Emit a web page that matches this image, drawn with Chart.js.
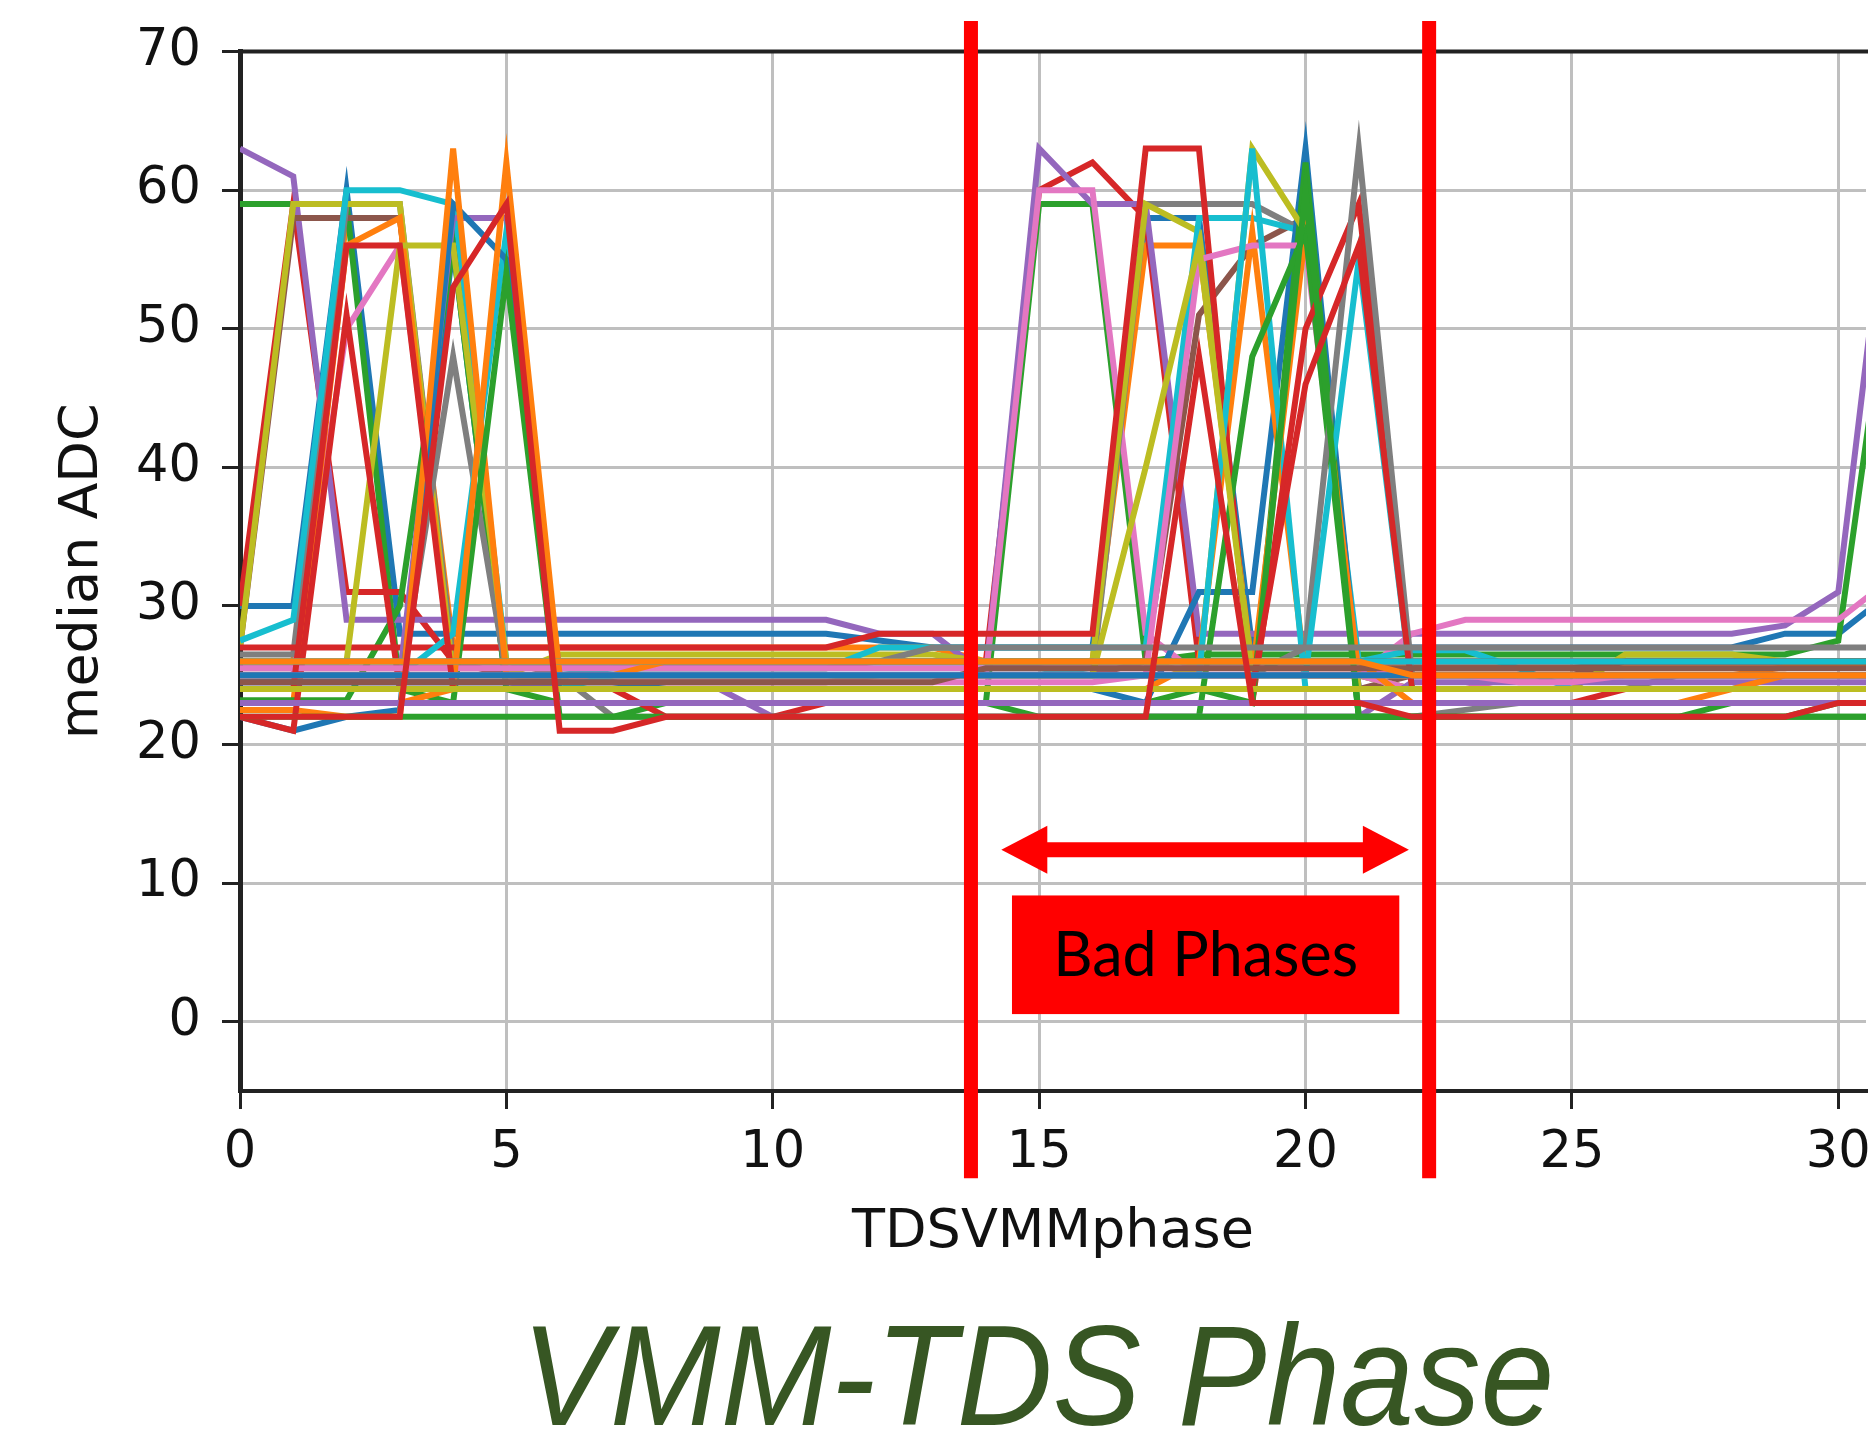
<!DOCTYPE html>
<html>
<head>
<meta charset="utf-8">
<title>VMM-TDS Phase</title>
<script src="https://cdn.jsdelivr.net/npm/chart.js@4.4.1/dist/chart.umd.min.js"></script>
<style>
    html, body { margin: 0; padding: 0; background: #ffffff; overflow: hidden; }
    #chart-wrap { position: relative; width: 1868px; height: 1435px; }
    #slide-title {
        position: absolute;
        left: 1038px;
        top: 1305px;
        font-family: "Liberation Sans", Arial, sans-serif;
        font-style: italic;
        font-size: 142px;
        line-height: 1;
        color: #375623;
        white-space: nowrap;
        transform: translateX(-50%) scaleX(0.935);
    }
</style>
</head>
<body>
<div id="chart-wrap">
    <canvas id="phase-scan-chart"></canvas>
    <div id="slide-title">VMM-TDS Phase</div>
</div>
<script>
// TDS/VMM phase scan, one line per channel
const phases = [0, 1, 2, 3, 4, 5, 6, 7, 8, 9, 10, 11, 12, 13, 14, 15, 16, 17, 18, 19, 20, 21, 22, 23, 24, 25, 26, 27, 28, 29, 30, 31];
const xTicks = [0, 5, 10, 15, 20, 25, 30];
const yTicks = [0, 10, 20, 30, 40, 50, 60, 70];

const channel00 = [30, 30, 60, 28, 28, 28, 28, 28, 28, 28, 28, 28, 27.5, 27, 27, 27, 27, 58, 58, 27, 27, 27, 27, 27, 27, 27, 27, 27, 27, 28, 28, 31];
const channel01 = [26, 26, 58, 58, 27, 27, 27, 27, 27, 27, 27, 27, 27, 27, 26, 26, 26, 56, 56, 25.5, 25.5, 25.5, 25.5, 25.5, 25.5, 25.5, 25.5, 25.5, 25.5, 25.5, 26, 26];
const channel02 = [59, 59, 59, 24, 23, 23, 23, 23, 23, 23, 23, 23, 23, 23, 23, 59, 59, 26, 26.5, 26.5, 26.5, 26.5, 26.5, 26.5, 26.5, 26.5, 26.5, 26.5, 26.5, 26.5, 27.5, 55];
const channel03 = [30, 59, 31, 31, 26, 26, 26, 26, 26, 26, 26, 26, 26, 26, 26, 60, 62, 58, 26, 26, 26, 26, 26, 26, 26, 26, 26, 26, 26, 26, 26, 26];
const channel04 = [63, 61, 29, 29, 29, 29, 29, 29, 29, 29, 29, 29, 28, 28, 25, 63, 59, 59, 28, 28, 28, 28, 28, 28, 28, 28, 28, 28, 28, 28.6, 31, 63];
const channel05 = [27, 58, 58, 58, 26, 25, 25, 25, 25, 25, 25, 25, 25, 25, 25, 25, 25, 26, 51, 56, 58, 24, 25, 25, 25, 25, 26, 26, 26, 26, 26, 26];
const channel06 = [25, 25, 50, 56, 25, 25, 25, 25, 25, 25, 25, 25, 25, 25, 25, 60, 60, 28, 25, 25, 25, 25, 28, 29, 29, 29, 29, 29, 29, 29, 29, 32];
const channel07 = [26.5, 26.5, 59, 59, 26, 26, 25, 25, 25, 25, 25, 25, 25, 25, 25, 25, 25, 59, 59, 59, 57, 25, 24, 24, 24, 24, 24, 25, 25, 25, 25, 25];
const channel08 = [27, 59, 59, 59, 25, 25, 26.5, 26.5, 26.5, 26.5, 26.5, 26.5, 26.5, 26.5, 26, 26, 26, 59, 57, 25, 25, 25, 24, 24, 24, 24, 26.5, 26.5, 26.5, 26, 26, 26];
const channel09 = [27.5, 29, 60, 60, 59, 26, 25.5, 25.5, 25.5, 25.5, 25.5, 25.5, 27, 27, 27, 27, 27, 27, 58, 58, 57, 26, 26.8, 26.8, 25.5, 24, 24, 24, 24, 25, 25, 25];
const channel10 = [24, 24, 24, 24, 56, 24, 24, 24, 24, 24, 24, 24, 24, 24, 24, 24, 24, 23, 31, 31, 63, 24, 24, 24, 24, 24, 24, 24, 24, 24, 24, 24];
const channel11 = [23, 23, 56, 58, 24, 24, 24, 24, 24, 24, 24, 24, 24, 24, 24, 24, 24, 24, 26, 57, 25, 25, 25, 25, 25, 25, 25, 25, 25, 25.6, 25.6, 25.6];
const channel12 = [23.2, 23.2, 23.2, 30, 56, 24, 23, 23, 23, 23, 23, 23, 23, 23, 23, 23, 23, 23, 24, 23, 62, 22, 22, 22, 22, 22, 22, 22, 23, 23, 23, 23];
const channel13 = [27, 27, 27, 27, 27, 27, 27, 27, 27, 27, 27, 27, 28, 28, 28, 28, 28, 63, 63, 23, 23, 23, 23, 23, 23, 23, 24, 24, 24, 24, 24, 24];
const channel14 = [25, 25, 25, 25, 58, 58, 25, 25, 25, 25, 25, 25, 25, 25, 25, 25, 25, 25, 25, 25, 25, 25, 25, 25, 25, 25, 25, 25, 25, 25, 25, 25];
const channel15 = [25, 25, 25, 25, 25, 25, 24.5, 24.5, 24.5, 24.5, 24.5, 24.5, 25, 25, 25, 25, 25, 25, 25, 25, 25, 25, 25.5, 25.5, 25.5, 25.5, 26, 26, 26, 26, 26, 26];
const channel16 = [24.9, 24.9, 24.9, 25, 25, 25, 25, 24.5, 24.5, 24.5, 24.5, 24.5, 24.5, 24.5, 24.5, 24.5, 24.5, 25, 55, 56, 56, 25, 24, 24, 25, 25, 25, 25, 25, 25, 25, 25];
const channel17 = [24, 24, 24, 24, 48, 25, 25, 22, 22, 22, 22, 22, 22, 22, 22, 22, 22, 22, 22, 22, 22, 22, 22, 22.5, 23, 23, 23, 23, 23, 23, 23, 23];
const channel18 = [26, 26, 26, 56, 56, 26, 26, 26, 26, 26, 26, 26, 26, 26, 26, 26, 26, 26, 25, 63, 57, 24, 24, 24, 24, 24, 24, 24, 24, 24, 24, 24];
const channel19 = [25, 25, 25, 25, 28, 57, 25, 25.5, 25.5, 25.5, 25.5, 25.5, 25.5, 25.5, 25.5, 25.5, 25, 25, 25, 63, 24, 24, 24, 24, 24, 24, 24, 24, 24, 24, 24, 24];
const channel20 = [22, 21, 22, 22.5, 59, 55, 24, 24, 24, 24, 24, 24, 24, 24, 24, 24, 24, 24, 24, 24, 24, 24, 24, 24, 24, 24, 24, 24, 24, 24, 24, 24];
const channel21 = [22.5, 22.5, 22, 22, 63, 25, 25, 25, 25, 25, 25, 25, 25, 25, 25, 25, 25, 25, 25, 25, 57, 25, 25, 25, 25, 25, 25, 25, 25, 25, 25, 25];
const channel22 = [23, 23, 23, 23, 23, 54, 22, 22, 23, 23, 23, 23, 23, 23, 23, 22, 22, 22, 22, 48, 57, 22, 22, 22, 22, 22, 22, 22, 22, 22, 23, 23];
const channel23 = [22, 21, 51, 24, 24, 24, 24, 24, 22, 22, 22, 23, 23, 23, 23, 23, 23, 23, 23, 23, 50, 59, 24, 24, 24, 24, 24, 24, 24, 24, 24, 24];
const channel24 = [24.5, 24.5, 24.5, 24.5, 24.5, 24.5, 24, 24, 24, 24, 22, 22, 22, 22, 22, 22, 22, 22, 22, 22, 22, 22, 24.5, 24.5, 24.5, 24.5, 24.5, 24.5, 24.5, 24.5, 24.5, 24.5];
const channel25 = [25.5, 25.5, 25.5, 25.5, 25.5, 25.5, 25.5, 25.5, 25.5, 25.5, 25.5, 25.5, 26, 26, 26, 26, 26, 26, 26, 26, 26, 26, 26, 26, 26, 26, 26, 26, 26, 26, 26, 26];
const channel26 = [25.5, 25.5, 25.5, 25.5, 25.5, 25.5, 25.5, 25.5, 25.5, 25.5, 25.5, 25.5, 25.5, 25.5, 25.5, 25.5, 25.5, 25.5, 25.5, 25.5, 25.5, 25.5, 25, 25, 24.5, 24.5, 25, 25, 25, 25, 25, 25];
const channel27 = [25, 25, 25, 25, 25, 25, 25, 25, 25, 25, 25, 25, 25, 25, 25, 25, 25, 25, 25, 25, 27, 63, 25, 25, 25, 25, 25, 25, 25, 25, 25, 25];
const channel28 = [25, 25, 25, 25, 25, 25, 25, 25, 25, 25, 25, 25, 25, 25, 25, 25, 25, 40, 56, 25, 25, 25, 25, 25, 25, 25, 25, 25, 25, 25, 25, 25];
const channel29 = [24, 24, 24, 24, 24, 24, 24, 25, 25, 25, 25, 25, 25, 25, 25, 25, 25, 25, 25, 25, 25, 55, 24, 24, 24, 24, 24, 24, 24, 24, 24, 24];
const channel30 = [24.5, 24.5, 24.5, 24.5, 24.5, 24.5, 24.5, 24.5, 24, 24, 24, 24, 24, 24, 24, 24, 24, 24, 24, 24, 24, 24, 24, 24, 24, 24, 24, 24, 24, 24, 24, 24];
const channel31 = [23, 23, 23, 23, 24, 62, 25, 25, 26, 26, 26, 26, 26, 26, 26, 26, 26, 26, 26, 26, 26, 26, 23, 23, 23, 23, 23, 23, 24, 25, 25, 25];
const channel32 = [23, 23, 23, 23, 23, 23, 23, 23, 23, 23, 23, 23, 23, 23, 23, 23, 23, 23, 23, 23, 60, 22, 22, 22, 22, 22, 22, 22, 22, 22, 22, 22];
const channel33 = [24, 24, 56, 56, 24, 24, 24, 24, 24, 24, 24, 24, 24, 24, 24, 24, 24, 24, 24, 24, 46, 56, 24, 24, 24, 24, 24, 24, 24, 24, 24, 24];
const channel34 = [23, 23, 23, 23, 23, 23, 23, 23, 23, 23, 23, 23, 23, 23, 23, 23, 23, 23, 23, 23, 23, 23, 23, 23, 23, 23, 23, 23, 23, 23, 23, 23];
const channel35 = [24.5, 24.5, 24.5, 24.5, 24.5, 24.5, 24.5, 24.5, 24.5, 24.5, 24.5, 24.5, 24.5, 24.5, 25.5, 25.5, 25.5, 25.5, 25.5, 25.5, 25.5, 25.5, 25.5, 25.5, 25.5, 25.5, 25.5, 25.5, 25.5, 25.5, 25.5, 25.5];
const channel36 = [25, 25, 25, 25, 25, 25, 25, 25, 25, 25, 25, 25, 25, 25, 25, 25, 25, 25, 25, 25, 25, 25, 25, 25, 25, 25, 25, 25, 25, 25, 25, 25];
const channel37 = [26, 26, 26, 26, 26, 26, 26, 26, 26, 26, 26, 26, 26, 27, 27, 27, 27, 27, 27, 27, 27, 27, 27, 27, 27, 27, 27, 27, 27, 27, 27, 27];
const channel38 = [24, 24, 24, 24, 24, 24, 24, 24, 24, 24, 24, 24, 24, 24, 24, 24, 24, 24, 24, 24, 24, 24, 24, 24, 24, 24, 24, 24, 24, 24, 24, 24];
const channel39 = [26, 26, 26, 26, 26, 26, 26, 26, 26, 26, 26, 26, 26, 26, 26, 26, 26, 26, 26, 26, 26, 26, 26, 26, 26, 26, 26, 26, 26, 26, 26, 26];
const channel40 = [25, 25, 25, 25, 25, 25, 25, 25, 25, 25, 25, 25, 25, 25, 25, 25, 25, 25, 25, 25, 25, 25, 25, 25, 25, 25, 25, 25, 25, 25, 25, 25];
const channel41 = [26, 26, 26, 26, 26, 26, 26, 26, 26, 26, 26, 26, 26, 26, 26, 26, 26, 26, 26, 26, 26, 26, 25, 25, 25, 25, 25, 25, 25, 25, 25, 25];
const channel42 = [22, 22, 22, 22, 22, 22, 22, 22, 22, 22, 22, 22, 22, 22, 22, 22, 22, 22, 22, 22, 22, 22, 22, 22, 22, 22, 22, 22, 22, 22, 22, 22];
const channel43 = [22, 22, 22, 22, 53, 59, 21, 21, 22, 22, 22, 22, 22, 22, 22, 22, 22, 22, 48, 23, 23, 23, 22, 22, 22, 22, 22, 22, 22, 22, 23, 23];

const channels = [
    channel00, channel01, channel02, channel03, channel04, channel05, channel06, channel07, channel08, channel09,
    channel10, channel11, channel12, channel13, channel14, channel15, channel16, channel17, channel18, channel19,
    channel20, channel21, channel22, channel23, channel24, channel25, channel26, channel27, channel28, channel29,
    channel30, channel31, channel32, channel33, channel34, channel35, channel36, channel37, channel38, channel39,
    channel40, channel41, channel42, channel43
];

// matplotlib tab10 cycle
const lineColors = ['#1f77b4', '#ff7f0e', '#2ca02c', '#d62728', '#9467bd', '#8c564b', '#e377c2', '#7f7f7f', '#bcbd22', '#17becf'];

// bad phase window annotation, in data units
const badPhaseEdges = [13.72, 22.32];
const badPhaseMarkerSpan = [-11.3, 72.2];
const badPhaseArrow = [14.29, 21.94];
const badPhaseArrowLevel = 12.4;
const badPhaseBoxX = [14.49, 21.76];
const badPhaseBoxY = [0.55, 9.11];

document.addEventListener('DOMContentLoaded', function() {
    initPhaseScanChart();
});

const badPhasesPlugin = {
    id: 'badPhases',
    beforeDatasetsDraw(chart) {
        const { ctx, chartArea } = chart;
        ctx.save();
        ctx.strokeStyle = '#222222';
        ctx.lineWidth = 4;
        ctx.beginPath();
        ctx.moveTo(chartArea.left, chartArea.top);
        ctx.lineTo(chartArea.right + 4, chartArea.top);
        ctx.stroke();
        ctx.restore();
    },
    afterDraw(chart) {
        const { ctx } = chart;
        const x = chart.scales.x;
        const y = chart.scales.y;
        ctx.save();

        ctx.strokeStyle = '#ff0000';
        ctx.lineWidth = 14;
        badPhaseEdges.forEach(edge => {
            const px = x.getPixelForValue(edge);
            ctx.beginPath();
            ctx.moveTo(px, y.getPixelForValue(badPhaseMarkerSpan[1]));
            ctx.lineTo(px, y.getPixelForValue(badPhaseMarkerSpan[0]));
            ctx.stroke();
        });

        // double headed arrow
        const ax1 = x.getPixelForValue(badPhaseArrow[0]);
        const ax2 = x.getPixelForValue(badPhaseArrow[1]);
        const ay = y.getPixelForValue(badPhaseArrowLevel);
        const head = 46;
        ctx.fillStyle = '#ff0000';
        ctx.lineWidth = 15;
        ctx.beginPath();
        ctx.moveTo(ax1 + head - 4, ay);
        ctx.lineTo(ax2 - head + 4, ay);
        ctx.stroke();
        ctx.beginPath();
        ctx.moveTo(ax1, ay);
        ctx.lineTo(ax1 + head, ay - 24);
        ctx.lineTo(ax1 + head, ay + 24);
        ctx.closePath();
        ctx.fill();
        ctx.beginPath();
        ctx.moveTo(ax2, ay);
        ctx.lineTo(ax2 - head, ay - 24);
        ctx.lineTo(ax2 - head, ay + 24);
        ctx.closePath();
        ctx.fill();

        // label box
        const bx1 = x.getPixelForValue(badPhaseBoxX[0]);
        const bx2 = x.getPixelForValue(badPhaseBoxX[1]);
        const by1 = y.getPixelForValue(badPhaseBoxY[1]);
        const by2 = y.getPixelForValue(badPhaseBoxY[0]);
        ctx.fillRect(bx1, by1, bx2 - bx1, by2 - by1);
        ctx.fillStyle = '#000000';
        ctx.font = '61px Lato, "Open Sans", sans-serif';
        ctx.textAlign = 'center';
        ctx.textBaseline = 'middle';
        ctx.fillText('Bad Phases', (bx1 + bx2) / 2, (by1 + by2) / 2 + 2);

        ctx.restore();
    }
};

function initPhaseScanChart() {
    const chartContainer = document.getElementById('phase-scan-chart');
    if (!chartContainer) return;

    const datasets = channels.map((values, i) => ({
        label: 'channel ' + i,
        data: values.map((v, j) => ({ x: phases[j], y: v })),
        borderColor: lineColors[i % lineColors.length],
        backgroundColor: lineColors[i % lineColors.length],
        borderWidth: 6,
        pointRadius: 0,
        tension: 0,
        fill: false,
        order: channels.length - i
    }));

    const tickFont = { family: '"DejaVu Sans", sans-serif', size: 51 };
    const titleFont = { family: '"DejaVu Sans", sans-serif', size: 54 };

    const ctx = chartContainer.getContext('2d');

    new Chart(ctx, {
        type: 'line',
        data: { datasets: datasets },
        options: {
            responsive: true,
            maintainAspectRatio: false,
            animation: false,
            layout: {
                padding: { top: 48, right: 2, left: 0, bottom: 0 }
            },
            scales: {
                x: {
                    type: 'linear',
                    min: 0,
                    max: 30.52,
                    afterBuildTicks: axis => {
                        axis.ticks = xTicks.map(v => ({ value: v }));
                    },
                    afterFit: axis => {
                        axis.height = 344;
                        axis.paddingLeft = 0;
                        axis.paddingRight = 0;
                    },
                    grid: {
                        color: '#bfbfbf',
                        lineWidth: 3,
                        tickLength: 18,
                        tickColor: '#222222',
                        tickWidth: 3
                    },
                    border: { color: '#222222', width: 4 },
                    ticks: {
                        color: '#111111',
                        font: tickFont,
                        padding: 14,
                        maxRotation: 0,
                        autoSkip: false
                    },
                    title: {
                        display: true,
                        text: 'TDSVMMphase',
                        color: '#111111',
                        font: titleFont,
                        padding: { top: 0, bottom: 170 }
                    }
                },
                y: {
                    type: 'linear',
                    min: -5,
                    max: 70,
                    afterBuildTicks: axis => {
                        axis.ticks = yTicks.map(v => ({ value: v }));
                    },
                    afterFit: axis => {
                        axis.width = 240;
                    },
                    grid: {
                        color: '#bfbfbf',
                        lineWidth: 3,
                        tickLength: 18,
                        tickColor: '#222222',
                        tickWidth: 3
                    },
                    border: { color: '#222222', width: 5 },
                    ticks: {
                        color: '#111111',
                        font: tickFont,
                        padding: 21
                    },
                    title: {
                        display: true,
                        text: 'median ADC',
                        color: '#111111',
                        font: titleFont,
                        padding: { top: 51, bottom: 0 }
                    }
                }
            },
            plugins: {
                legend: { display: false },
                tooltip: { enabled: false }
            }
        },
        plugins: [badPhasesPlugin]
    });
}
</script>
</body>
</html>
